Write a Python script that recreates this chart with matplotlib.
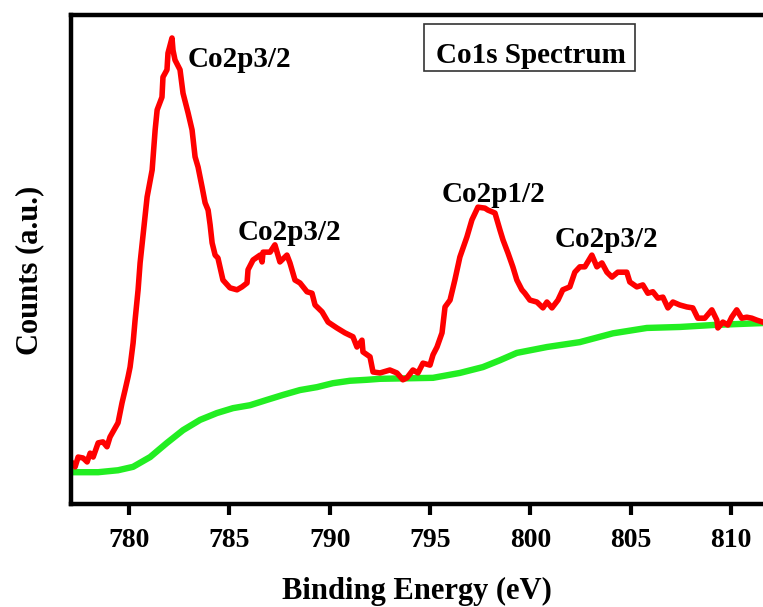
import matplotlib
matplotlib.use('Agg')
import matplotlib.pyplot as plt
from matplotlib.patches import Rectangle

plt.rcParams['font.family'] = ['Liberation Serif', 'DejaVu Serif']
plt.rcParams['font.weight'] = 'bold'

# measured spectrum (binding energy in eV, counts in arbitrary units)
energy_meas = [777.16, 777.31, 777.46, 777.71, 777.91, 778.06, 778.21, 778.46, 778.70, 778.90,
               779.05, 779.30, 779.45, 779.65, 779.80, 779.95, 780.05, 780.20, 780.30, 780.45,
               780.55, 780.90, 781.15, 781.30, 781.40, 781.64, 781.69, 781.89, 781.94, 782.14,
               782.19, 782.29, 782.54, 782.69, 782.94, 783.14, 783.29, 783.44, 783.64, 783.79,
               783.94, 784.04, 784.14, 784.29, 784.43, 784.68, 785.03, 785.38, 785.63, 785.88,
               785.93, 786.18, 786.53, 786.63, 786.68, 787.03, 787.27, 787.52, 787.87, 788.02,
               788.27, 788.52, 788.87, 789.12, 789.27, 789.62, 789.92, 790.36, 790.76, 791.16,
               791.36, 791.61, 791.66, 792.01, 792.16, 792.51, 793.00, 793.35, 793.65, 793.85,
               794.15, 794.40, 794.65, 795.00, 795.15, 795.35, 795.60, 795.75, 796.00, 796.24,
               796.49, 796.84, 797.09, 797.39, 797.74, 797.89, 798.24, 798.49, 798.64, 798.89,
               799.13, 799.33, 799.58, 799.73, 799.98, 800.33, 800.63, 800.83, 801.08, 801.38,
               801.62, 801.97, 802.22, 802.47, 802.72, 803.07, 803.32, 803.57, 803.82, 804.07,
               804.36, 804.81, 804.96, 805.31, 805.61, 805.86, 806.11, 806.36, 806.61, 806.86,
               807.11, 807.45, 807.80, 808.10, 808.35, 808.70, 809.05, 809.30, 809.35, 809.60,
               809.85, 810.04, 810.29, 810.54, 810.79, 811.04, 811.29, 811.59]
counts_meas = [8.4, 7.6, 9.6, 9.4, 8.6, 10.4, 9.6, 12.5, 12.7, 11.7,
               13.7, 15.5, 16.6, 20.7, 23.3, 26.0, 28.0, 32.9, 37.6, 43.8,
               49.3, 62.8, 68.3, 76.5, 80.6, 83.2, 87.3, 88.8, 92.2, 95.3,
               92.8, 90.8, 88.8, 84.0, 80.0, 76.5, 71.0, 68.9, 64.8, 61.6,
               60.1, 57.1, 53.4, 50.9, 50.3, 45.8, 44.2, 43.8, 44.4, 45.2,
               47.9, 49.9, 50.9, 49.5, 51.5, 51.5, 53.0, 49.5, 50.9, 49.3,
               45.8, 45.2, 43.4, 43.1, 40.7, 39.3, 37.2, 36.0, 35.0, 34.2,
               32.1, 33.5, 31.1, 30.1, 27.0, 26.8, 27.4, 26.8, 25.4, 25.8,
               27.4, 26.8, 28.8, 28.4, 30.5, 32.1, 35.0, 40.3, 41.7, 45.8,
               50.5, 54.6, 58.1, 60.7, 60.5, 60.1, 59.5, 56.0, 54.0, 51.3,
               48.5, 45.8, 43.8, 43.1, 41.7, 41.3, 40.1, 41.3, 40.1, 41.7,
               43.8, 44.4, 47.4, 48.5, 48.5, 50.9, 48.5, 49.3, 47.4, 46.4,
               47.4, 47.4, 45.4, 44.4, 44.8, 43.1, 43.4, 42.1, 42.3, 40.1,
               41.3, 40.7, 40.3, 40.1, 38.0, 38.0, 39.7, 37.6, 36.0, 37.2,
               36.6, 38.2, 39.7, 38.0, 38.2, 38.0, 37.6, 37.2]

# Shirley-type background
energy_bg = [777.11, 778.46, 779.45, 780.20, 781.05, 781.89, 782.69, 783.54, 784.38, 785.18,
             786.03, 786.88, 787.67, 788.52, 789.37, 790.16, 791.01, 791.86, 792.51, 795.15,
             796.49, 797.64, 798.49, 799.33, 800.83, 802.47, 804.12, 805.81, 807.45, 809.10,
             811.59]
counts_bg = [6.5, 6.5, 6.9, 7.6, 9.6, 12.5, 15.1, 17.2, 18.6, 19.6,
             20.2, 21.3, 22.3, 23.3, 23.9, 24.7, 25.2, 25.4, 25.6, 25.8,
             26.8, 28.0, 29.4, 30.9, 32.1, 33.1, 34.9, 36.0, 36.2, 36.6,
             37.0]

peak_labels = ['Co2p3/2', 'Co2p3/2', 'Co2p1/2', 'Co2p3/2']
peak_label_x = [782.94, 785.43, 795.60, 801.23]
peak_label_y = [89.4, 54.0, 61.8, 52.6]

xticks = [780, 785, 790, 795, 800, 805, 810]

fig = plt.figure(figsize=(7.63, 6.07), dpi=100)
ax = fig.add_axes([0.0937, 0.1697, 0.9063, 0.8056])

ax.plot(energy_bg, counts_bg, color='#22ee22', linewidth=4.6, solid_capstyle='round')
ax.plot(energy_meas, counts_meas, color='#ff0000', linewidth=4.0, solid_joinstyle='round')

for lab, lx, ly in zip(peak_labels, peak_label_x, peak_label_y):
    ax.text(lx, ly, lab, ha='left', va='baseline', fontsize=21, fontweight='bold')

# title box
ax.add_patch(Rectangle((0.5098, 0.8855), 0.3051, 0.0961, transform=ax.transAxes,
                       fill=False, edgecolor='#333333', linewidth=1.2))
ax.text(800.05, 90.2, 'Co1s Spectrum', ha='center', va='baseline', fontsize=21, fontweight='bold')

ax.set_xlim(777.13, 811.6)
ax.set_ylim(0, 100)
ax.set_xticks(xticks)
ax.set_yticks([])
ax.tick_params(axis='x', direction='out', length=8, width=3, pad=9, labelsize=20)
for t in ax.get_xticklabels():
    t.set_fontweight('bold')

for side in ['left', 'bottom', 'top']:
    ax.spines[side].set_linewidth(3.2)
ax.spines['right'].set_visible(False)

ax.set_xlabel('Binding Energy (eV)', fontsize=22, fontweight='bold')
ax.set_ylabel('Counts (a.u.)', fontsize=22, fontweight='bold')
ax.xaxis.set_label_coords(0.5, -0.1943)
ax.xaxis.label.set_va('baseline')
ax.yaxis.set_label_coords(-0.0499, 0.4785)
ax.yaxis.label.set_va('baseline')

fig.savefig('out.png', dpi=100)
